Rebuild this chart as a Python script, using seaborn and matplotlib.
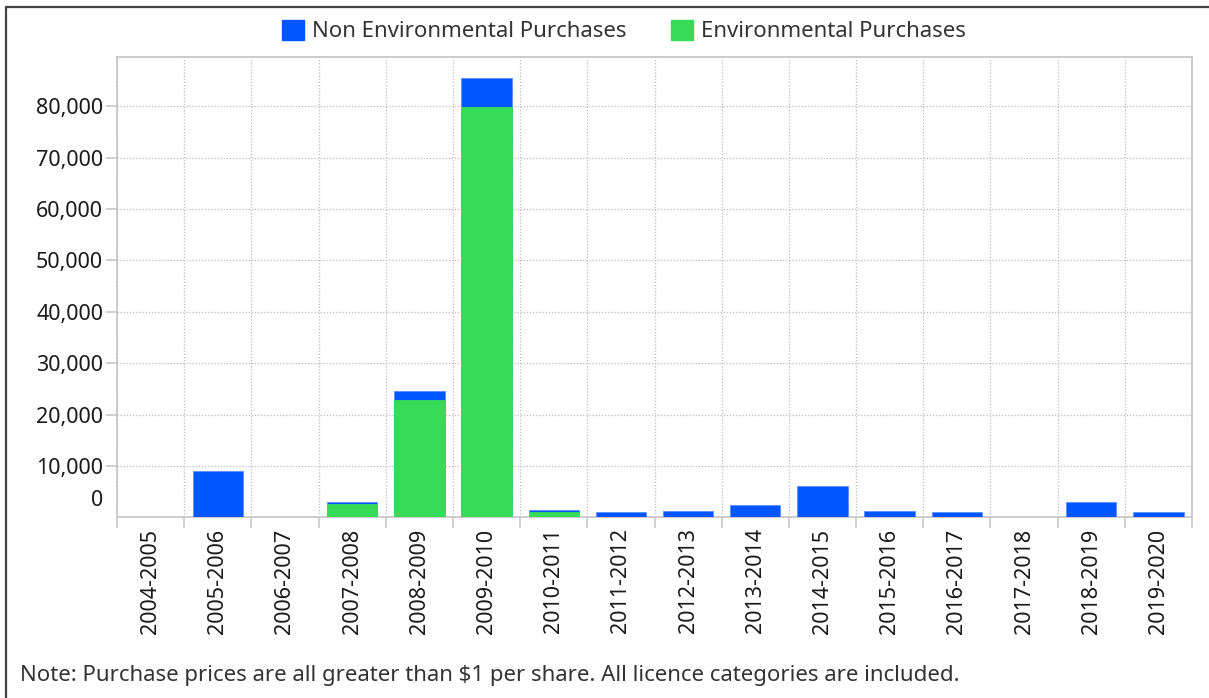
import matplotlib
matplotlib.use("Agg")
import matplotlib.pyplot as plt
import seaborn as sns
import pandas as pd
import numpy as np
from matplotlib.patches import Patch
from matplotlib.lines import Line2D
from matplotlib.ticker import FixedLocator, FuncFormatter

categories = ["2004-2005", "2005-2006", "2006-2007", "2007-2008", "2008-2009",
              "2009-2010", "2010-2011", "2011-2012", "2012-2013", "2013-2014",
              "2014-2015", "2015-2016", "2016-2017", "2017-2018", "2018-2019",
              "2019-2020"]
environmental = [0, 0, 0, 2600, 22800, 79900, 1000, 0, 0, 0, 0, 0, 0, 0, 0, 0]
non_environmental = [0, 9000, 0, 300, 1700, 5700, 350, 1000, 1300, 2300, 6000,
                     1300, 1000, 0, 2900, 1000]
y_ticks = [10000, 20000, 30000, 40000, 50000, 60000, 70000, 80000]

BLUE = "#0057FF"
GREEN = "#36DC58"
GRID = "#BDBDBD"
FRAME = "#C8C8C8"
LABEL_SIZE = 15.5

sns.set_theme(style="white")
plt.rcParams["font.family"] = ["Noto Sans", "DejaVu Sans"]

df = pd.DataFrame({"year": categories,
                   "env": environmental,
                   "nonenv": non_environmental})
df["total"] = df["env"] + df["nonenv"]

fig = plt.figure(figsize=(12.09, 6.98), dpi=100)
ax = fig.add_axes([117 / 1209, 1 - 517.3 / 698, (1192 - 117) / 1209, (517.3 - 57) / 698])

sns.barplot(data=df, x="year", y="total", color=BLUE, saturation=1, width=0.75,
            ax=ax, edgecolor="#5C8FFF", linewidth=0.6, zorder=3)
sns.barplot(data=df, x="year", y="env", color=GREEN, saturation=1, width=0.75,
            ax=ax, edgecolor=GREEN, linewidth=0.6, zorder=4)

n = len(categories)
ax.set_xlim(-0.5, n - 0.5)
ax.set_ylim(0, 89600)
ax.set_xlabel("")
ax.set_ylabel("")

# ticks
ax.set_xticks(range(n))
ax.set_xticklabels(categories, rotation=90, fontsize=LABEL_SIZE, color="#1a1a1a")
ax.xaxis.set_minor_locator(FixedLocator([i - 0.5 for i in range(n + 1)]))
ax.tick_params(axis="x", which="major", length=0, pad=8)
ax.tick_params(axis="x", which="minor", length=8, width=1.2, color=FRAME, bottom=True)
ax.set_yticks(y_ticks)
ax.yaxis.set_major_formatter(FuncFormatter(lambda v, p: f"{int(v):,}"))
ax.tick_params(axis="y", which="major", length=8, width=1.2, color=FRAME, pad=2,
               labelsize=LABEL_SIZE, labelcolor="#1a1a1a", left=True)
ax.annotate("0", xy=(0, 0), xycoords=("axes fraction", "data"),
            xytext=(-10, 12), textcoords="offset points", ha="right", va="center",
            fontsize=LABEL_SIZE, color="#1a1a1a")

# grid
ax.grid(False)
ax.xaxis.grid(True, which="minor", linestyle=(0, (1, 1.5)), color=GRID, linewidth=0.9, zorder=0)
ax.yaxis.grid(True, which="major", linestyle=(0, (1, 1.5)), color=GRID, linewidth=0.9, zorder=0)
ax.set_axisbelow(True)

for s in ["top", "right", "left", "bottom"]:
    ax.spines[s].set_visible(True)
    ax.spines[s].set_color(FRAME)
    ax.spines[s].set_linewidth(1.3)

# legend
handles = [Patch(facecolor=BLUE, edgecolor=BLUE, label="Non Environmental Purchases"),
           Patch(facecolor=GREEN, edgecolor=GREEN, label="Environmental Purchases")]
leg = fig.legend(handles=handles, loc="center", bbox_to_anchor=(624 / 1209, 1 - 31 / 698),
                 ncol=2, frameon=False, fontsize=16, handlelength=1.0,
                 handleheight=1.0, handletextpad=0.35, columnspacing=2.0)
for t in leg.get_texts():
    t.set_color("#333333")

# note
fig.text(20 / 1209, 1 - 676 / 698, "Note: Purchase prices are all greater than $1 per share. "
         "All licence categories are included.", ha="left", va="center",
         fontsize=16, color="#333333")

# outer border
fig.add_artist(Line2D([6 / 1209, 6 / 1209], [0, 1 - 7 / 698], transform=fig.transFigure,
                      color="#444444", linewidth=1.6))
fig.add_artist(Line2D([6 / 1209, 1], [1 - 7 / 698, 1 - 7 / 698], transform=fig.transFigure,
                      color="#444444", linewidth=1.6))

fig.savefig("out.png", dpi=100)
